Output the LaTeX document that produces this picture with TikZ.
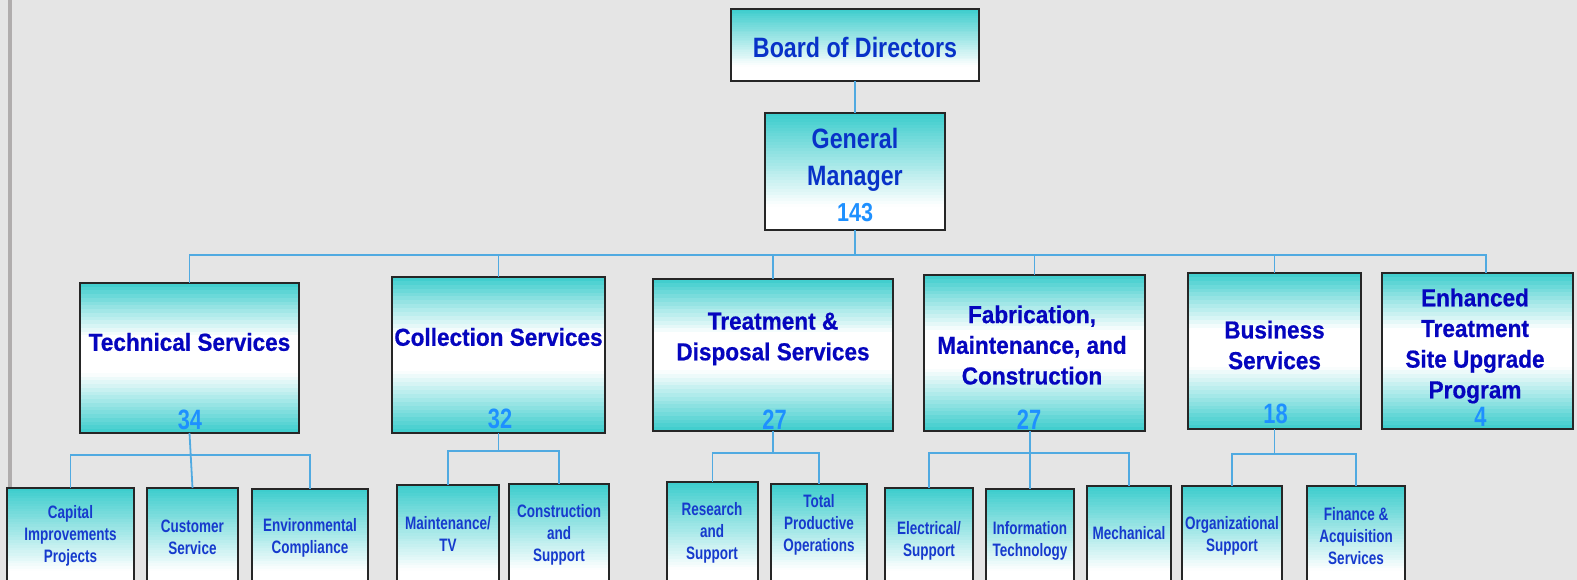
\documentclass[tikz,border=0pt]{standalone}
\usepackage{fontspec}
\setmainfont{Liberation Sans}
\newfontfamily\fBoard[FakeStretch=0.83]{Liberation Sans}
\newfontfamily\fMid[FakeStretch=0.92,FakeBold=0.6]{Liberation Sans}
\newfontfamily\fNum[FakeStretch=0.78]{Liberation Sans}
\newfontfamily\fSmall[FakeStretch=0.75]{Liberation Sans}
\definecolor{bgc}{RGB}{229,229,229}
\definecolor{barc}{RGB}{176,173,173}
\definecolor{tealc}{RGB}{58,204,204}
\definecolor{topblue}{RGB}{8,50,200}
\definecolor{midblue}{RGB}{5,5,190}
\definecolor{smallblue}{RGB}{22,58,205}
\definecolor{numblue}{RGB}{30,144,255}
\definecolor{linec}{RGB}{80,170,225}
% #1 name, #2-#5 x1 y1 x2 y2 (pixels), #6 percentage formula of \gT
\newcommand\gradbox[6]{%
  \foreach \gI in {0,...,39}{%
    \pgfmathsetmacro\gYa{#3+(#5-#3)*\gI/40}%
    \pgfmathsetmacro\gYb{#3+(#5-#3)*(\gI+1)/40+0.7}%
    \pgfmathsetmacro\gT{(\gI+0.5)/40}%
    \pgfmathtruncatemacro\gP{#6}%
    \fill[tealc!\gP!white] (#2,\gYa) rectangle (#4,\gYb);
  }%
  \node[boxbase, minimum width={(#4-#2)*0.75pt}, minimum height={(#5-#3)*0.75pt}] (#1) at ({(#2+#4)/2},{(#3+#5)/2}) {};%
}
\newcommand\fA{max(0,100*(1-\gT/0.8))}
\newcommand\fB{max(0,100*(0.36-\gT)/0.36,100*(\gT-0.6)/0.4)}
\begin{document}
\begin{tikzpicture}[x=0.75pt,y=-0.75pt,
  boxbase/.style={rectangle, draw=black!85, line width=1.3pt, inner sep=0pt, outer sep=0pt},
  conn/.style={draw=linec, line width=1.35pt},
  t1/.style={text=topblue, font=\fBoard\bfseries\fontsize{21}{27.5}\selectfont, align=center, inner sep=0pt},
  n1/.style={text=numblue, font=\fBoard\bfseries\fontsize{19.5}{24}\selectfont, inner sep=0pt},
  t2/.style={text=midblue, font=\fMid\bfseries\fontsize{18.4}{23}\selectfont, align=center, inner sep=0pt},
  n2/.style={text=numblue, font=\fNum\bfseries\fontsize{21}{24}\selectfont, inner sep=0pt},
  t3/.style={text=smallblue, font=\fSmall\bfseries\fontsize{13.5}{16.5}\selectfont, align=center, inner sep=0pt}
]
\useasboundingbox (0,0) rectangle (1577,580);
\clip (0,0) rectangle (1577,580);
\fill[bgc] (0,0) rectangle (1577,580);
\fill[barc] (8,0) rectangle (12,580);

% boxes
\gradbox{bod}{731}{9}{979}{81}{\fA}
\gradbox{gm}{765}{113}{945}{230}{\fA}
\gradbox{ts}{80}{283}{299}{433}{\fB}
\gradbox{cs}{392}{277}{605}{433}{\fB}
\gradbox{td}{653}{279}{893}{431}{\fB}
\gradbox{fm}{924}{275}{1145}{431}{\fB}
\gradbox{bs}{1188}{273}{1361}{429}{\fB}
\gradbox{et}{1382}{273}{1573}{429}{\fB}
\gradbox{cip}{7}{488}{134}{592}{\fA}
\gradbox{cus}{147}{488}{238}{592}{\fA}
\gradbox{env}{252}{489}{368}{592}{\fA}
\gradbox{mtv}{397}{485}{499}{592}{\fA}
\gradbox{cas}{509}{484}{609}{592}{\fA}
\gradbox{ras}{667}{482}{758}{592}{\fA}
\gradbox{tpo}{771}{484}{867}{592}{\fA}
\gradbox{els}{885}{488}{973}{592}{\fA}
\gradbox{inf}{986}{489}{1074}{592}{\fA}
\gradbox{mec}{1087}{486}{1171}{592}{\fA}
\gradbox{org}{1182}{486}{1282}{592}{\fA}
\gradbox{fin}{1307}{486}{1405}{592}{\fA}

% connectors
\coordinate (bus) at (0,255);
\coordinate (etd) at ([xshift=6.4pt]et.north);
\draw[conn] (bod.south) -- (gm.north);
\draw[conn] (gm.south) -- (gm.south |- bus);
\draw[conn] (ts.north) -- (ts.north |- bus) -- (etd |- bus) -- (etd);
\foreach \n in {cs,td,fm,bs} \draw[conn] (\n.north) -- (\n.north |- bus);

\coordinate (tsb) at (0,455);
\draw[conn] (cip.north) -- (cip.north |- tsb) -- (env.north |- tsb) -- (env.north);
\draw[conn] (ts.south) -- (cus.north);

\coordinate (csb) at (0,451);
\draw[conn] (cs.south) -- (cs.south |- csb);
\draw[conn] (mtv.north) -- (mtv.north |- csb) -- (cas.north |- csb) -- (cas.north);

\coordinate (tdb) at (0,453);
\draw[conn] (td.south) -- (td.south |- tdb);
\draw[conn] (ras.north) -- (ras.north |- tdb) -- (tpo.north |- tdb) -- (tpo.north);

\coordinate (fmb) at (0,453);
\draw[conn] (inf.north |- fm.south) -- (inf.north);
\draw[conn] (els.north) -- (els.north |- fmb) -- (mec.north |- fmb) -- (mec.north);

\coordinate (bsb) at (0,454);
\draw[conn] (bs.south) -- (bs.south |- bsb);
\draw[conn] (org.north) -- (org.north |- bsb) -- (fin.north |- bsb) -- (fin.north);

% texts
\node[t1] (bodt) at (855,47) {Board of Directors};
\node[t1] (gmt) at (855,160) {General\\Manager};
\node[n1] (gmn) at (855,213) {143};

\node[t2] (tst) at (189.5,342) {Technical Services};
\node[n2] (tsn) at (190,420) {34};
\node[t2] (cst) at (498.5,337) {Collection Services};
\node[n2] (csn) at (500,419) {32};
\node[t2] (tdt) at (773,339) {Treatment \&\\Disposal Services};
\node[n2] (tdn) at (774.5,420) {27};
\node[t2] (fmt) at (1032,345) {Fabrication,\\Maintenance, and\\Construction};
\node[n2] (fmn) at (1029,420) {27};
\node[t2] (bst) at (1274.5,345) {Business\\Services};
\node[n2] (bsn) at (1275.5,414) {18};
\node[t2] (ett) at (1475,346) {Enhanced\\Treatment\\Site Upgrade\\Program};
\node[n2] (etn) at (1480.5,417) {4};

\node[t3] (cipt) at (70.5,536) {Capital\\Improvements\\Projects};
\node[t3] (cust) at (192.5,537) {Customer\\Service};
\node[t3] (envt) at (310,538) {Environmental\\Compliance};
\node[t3] (mtvt) at (448,534) {Maintenance/\\TV};
\node[t3] (cast) at (559,535) {Construction\\and\\Support};
\node[t3] (rast) at (712,533) {Research\\and\\Support};
\node[t3] (tpot) at (819,525) {Total\\Productive\\Operations};
\node[t3] (elst) at (929,541) {Electrical/\\Support};
\node[t3] (inft) at (1030,541) {Information\\Technology};
\node[t3] (mect) at (1129,533) {Mechanical};
\node[t3] (orgt) at (1232,536) {Organizational\\Support};
\node[t3] (fint) at (1356,536) {Finance \&\\Acquisition\\Services};
\end{tikzpicture}
\end{document}
